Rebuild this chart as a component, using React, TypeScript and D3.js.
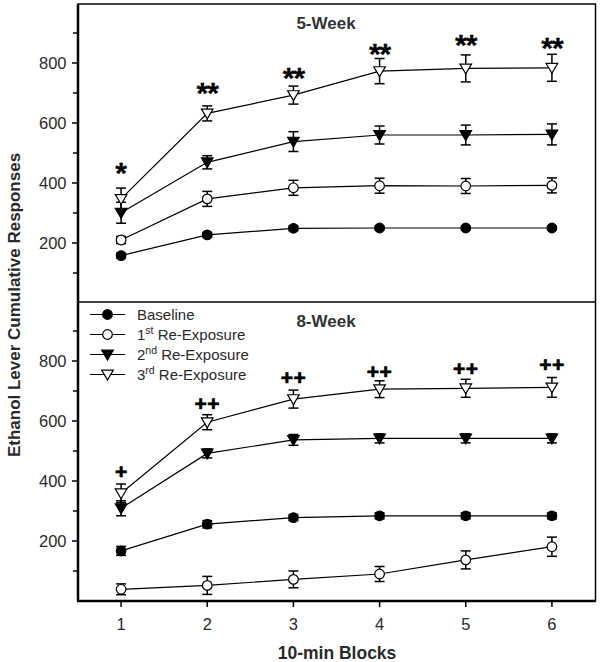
import React from "react";
import * as d3 from "d3";

const blocks = [1, 2, 3, 4, 5, 6];
const seriesNames = ["Baseline", "1st Re-Exposure", "2nd Re-Exposure", "3rd Re-Exposure"];

// 5-week panel
const w5Baseline = [158, 227, 249, 250, 250, 250];
const w5BaselineErr = [8, 8, 8, 6, 6, 6];
const w5First = [210, 347, 384, 391, 390, 392];
const w5FirstErr = [12, 25, 25, 25, 25, 25];
const w5Second = [301, 469, 538, 560, 560, 562];
const w5SecondErr = [35, 22, 33, 30, 33, 35];
const w5Third = [347, 632, 693, 773, 782, 784];
const w5ThirdErr = [36, 25, 30, 42, 45, 45];
const w5Marks = ["*", "**", "**", "**", "**", "**"];
const w5MarkY = [453, 717, 770, 850, 877, 870];

// 8-week panel
const w8Baseline = [167, 256, 278, 284, 284, 284];
const w8BaselineErr = [15, 12, 10, 10, 10, 10];
const w8First = [39, 52, 72, 90, 137, 181];
const w8FirstErr = [18, 30, 28, 25, 30, 32];
const w8Second = [309, 492, 537, 542, 542, 542];
const w8SecondErr = [25, 15, 18, 15, 15, 15];
const w8Third = [359, 596, 673, 706, 709, 712];
const w8ThirdErr = [31, 25, 30, 28, 30, 33];
const w8Marks = ["+", "++", "++", "++", "++", "++"];
const w8MarkY = [431, 657, 743, 764, 773, 787];

const yTicks = [200, 400, 600, 800];
const yMinor = [100, 300, 500, 700, 900];

const FONT = "Arial, 'Liberation Sans', Helvetica, sans-serif";
const TXT = "#2a2a2a";

type Kind = "circleFilled" | "circleOpen" | "triFilled" | "triOpen";
const kinds: Kind[] = ["circleFilled", "circleOpen", "triFilled", "triOpen"];

function Marker({ kind, x, y }: { kind: Kind; x: number; y: number }) {
  const filled = kind === "circleFilled" || kind === "triFilled";
  const fill = filled ? "#000" : "#fff";
  if (kind === "circleFilled" || kind === "circleOpen") {
    return <circle cx={x} cy={y} r={4.8} fill={fill} stroke="#000" strokeWidth={1.2} />;
  }
  const s = 5.8;
  const p = `M${x - s},${y - s * 0.75} L${x + s},${y - s * 0.75} L${x},${y + s * 0.95} Z`;
  return <path d={p} fill={fill} stroke="#000" strokeWidth={1.2} />;
}

function Panel({
  yTop,
  yBottom,
  title,
  titleY,
  data,
  errs,
  marks,
  markY,
  markSize,
  markOffset,
  markStroke,
  markSpacing,
}: {
  yTop: number;
  yBottom: number;
  title: string;
  titleY: number;
  data: number[][];
  errs: number[][];
  marks: string[];
  markY: number[];
  markSize: number;
  markOffset: number;
  markStroke: number;
  markSpacing: number;
}) {
  const x = d3.scaleLinear().domain([0.5, 6.5]).range([78, 595]);
  const y = d3.scaleLinear().domain([0, 1000]).range([yBottom, yTop]);
  const line = d3
    .line<number>()
    .x((_, i) => x(blocks[i]))
    .y((d) => y(d));
  return (
    <g>
      {yTicks.map((t) => (
        <g key={"t" + t}>
          <line x1={72} x2={78} y1={y(t)} y2={y(t)} stroke="#000" strokeWidth={1.5} />
          <text x={66.5} y={y(t)} dy="0.36em" textAnchor="end" fontSize={16.5} fill={TXT} fontFamily={FONT}>
            {t}
          </text>
        </g>
      ))}
      {yMinor.map((t) => (
        <line key={"m" + t} x1={73} x2={78} y1={y(t)} y2={y(t)} stroke="#000" strokeWidth={1.5} />
      ))}
      <text x={326} y={titleY} dy="0.36em" textAnchor="middle" fontSize={17} fontWeight="bold" fill="#333" fontFamily={FONT}>
        {title}
      </text>
      {data.map((s, si) => (
        <path key={"l" + si} d={line(s) || ""} fill="none" stroke="#000" strokeWidth={1.2} />
      ))}
      {data.map((s, si) =>
        s.map((v, i) => {
          const e = errs[si][i];
          const cx = x(blocks[i]);
          return (
            <g key={"e" + si + "-" + i} stroke="#000" strokeWidth={1.5}>
              <line x1={cx} x2={cx} y1={y(v - e)} y2={y(v + e)} />
              <line x1={cx - 5} x2={cx + 5} y1={y(v - e)} y2={y(v - e)} />
              <line x1={cx - 5} x2={cx + 5} y1={y(v + e)} y2={y(v + e)} />
            </g>
          );
        })
      )}
      {data.map((s, si) =>
        s.map((v, i) => <Marker key={"p" + si + "-" + i} kind={kinds[si]} x={x(blocks[i])} y={y(v)} />)
      )}
      {marks.map((m, i) => (
        <text
          key={"a" + i}
          x={x(blocks[i])}
          y={y(markY[i]) + markOffset}
          textAnchor="middle"
          fontSize={markSize}
          fontWeight="bold"
          fill="#000"
          stroke="#000"
          strokeWidth={markStroke}
          fontFamily={FONT}
          letterSpacing={m.length > 1 ? markSpacing : 0}
        >
          {m}
        </text>
      ))}
    </g>
  );
}

export default function App() {
  const xs = d3.scaleLinear().domain([0.5, 6.5]).range([78, 595]);
  const sup = ["st", "nd", "rd"];
  return (
    <svg width={600} height={662} style={{ position: "absolute", left: 0, top: 0 }}>
      <rect x={0} y={0} width={600} height={662} fill="#fff" />
      <Panel
        yTop={3}
        yBottom={303}
        title="5-Week"
        titleY={23}
        data={[w5Baseline, w5First, w5Second, w5Third]}
        errs={[w5BaselineErr, w5FirstErr, w5SecondErr, w5ThirdErr]}
        marks={w5Marks}
        markY={w5MarkY}
        markSize={30}
        markOffset={15.5}
        markStroke={0.3}
        markSpacing={-1}
      />
      <Panel
        yTop={301}
        yBottom={601}
        title="8-Week"
        titleY={321}
        data={[w8Baseline, w8First, w8Second, w8Third]}
        errs={[w8BaselineErr, w8FirstErr, w8SecondErr, w8ThirdErr]}
        marks={w8Marks}
        markY={w8MarkY}
        markSize={21}
        markOffset={7.2}
        markStroke={0.7}
        markSpacing={0.5}
      />
      {/* frame */}
      <rect x={78} y={4} width={517.5} height={597} fill="none" stroke="#000" strokeWidth={1.5} />
      <line x1={78} x2={595.5} y1={302} y2={302} stroke="#000" strokeWidth={1.5} />
      <line x1={78} x2={78} y1={4} y2={601} stroke="#000" strokeWidth={2.5} />
      <line x1={77} x2={595.5} y1={601} y2={601} stroke="#000" strokeWidth={2.5} />
      {blocks.map((b) => (
        <g key={"xt" + b}>
          <line x1={xs(b)} x2={xs(b)} y1={601} y2={607} stroke="#000" strokeWidth={1.5} />
          <text x={xs(b)} y={624} dy="0.36em" textAnchor="middle" fontSize={16.5} fill={TXT} fontFamily={FONT}>
            {b}
          </text>
        </g>
      ))}
      {/* legend */}
      {seriesNames.map((n, i) => {
        const ly = 314.5 + i * 20;
        return (
          <g key={"lg" + i}>
            <line x1={90} x2={125} y1={ly} y2={ly} stroke="#000" strokeWidth={1.2} />
            <Marker kind={kinds[i]} x={107.5} y={ly} />
            <text x={137} y={ly} dy="0.36em" fontSize={15} fill={TXT} fontFamily={FONT}>
              {i === 0 ? (
                n
              ) : (
                <>
                  {String(i)}
                  <tspan dy={-6} fontSize={10.5}>
                    {sup[i - 1]}
                  </tspan>
                  <tspan dy={6}> Re-Exposure</tspan>
                </>
              )}
            </text>
          </g>
        );
      })}
      <text
        transform="translate(20,305) rotate(-90)"
        textAnchor="middle"
        fontSize={17}
        fontWeight="bold"
        fill={TXT}
        fontFamily={FONT}
      >
        Ethanol Lever Cumulative Responses
      </text>
      <text x={337} y={659} textAnchor="middle" fontSize={17.5} fontWeight="bold" fill={TXT} fontFamily={FONT}>
        10-min Blocks
      </text>
    </svg>
  );
}
